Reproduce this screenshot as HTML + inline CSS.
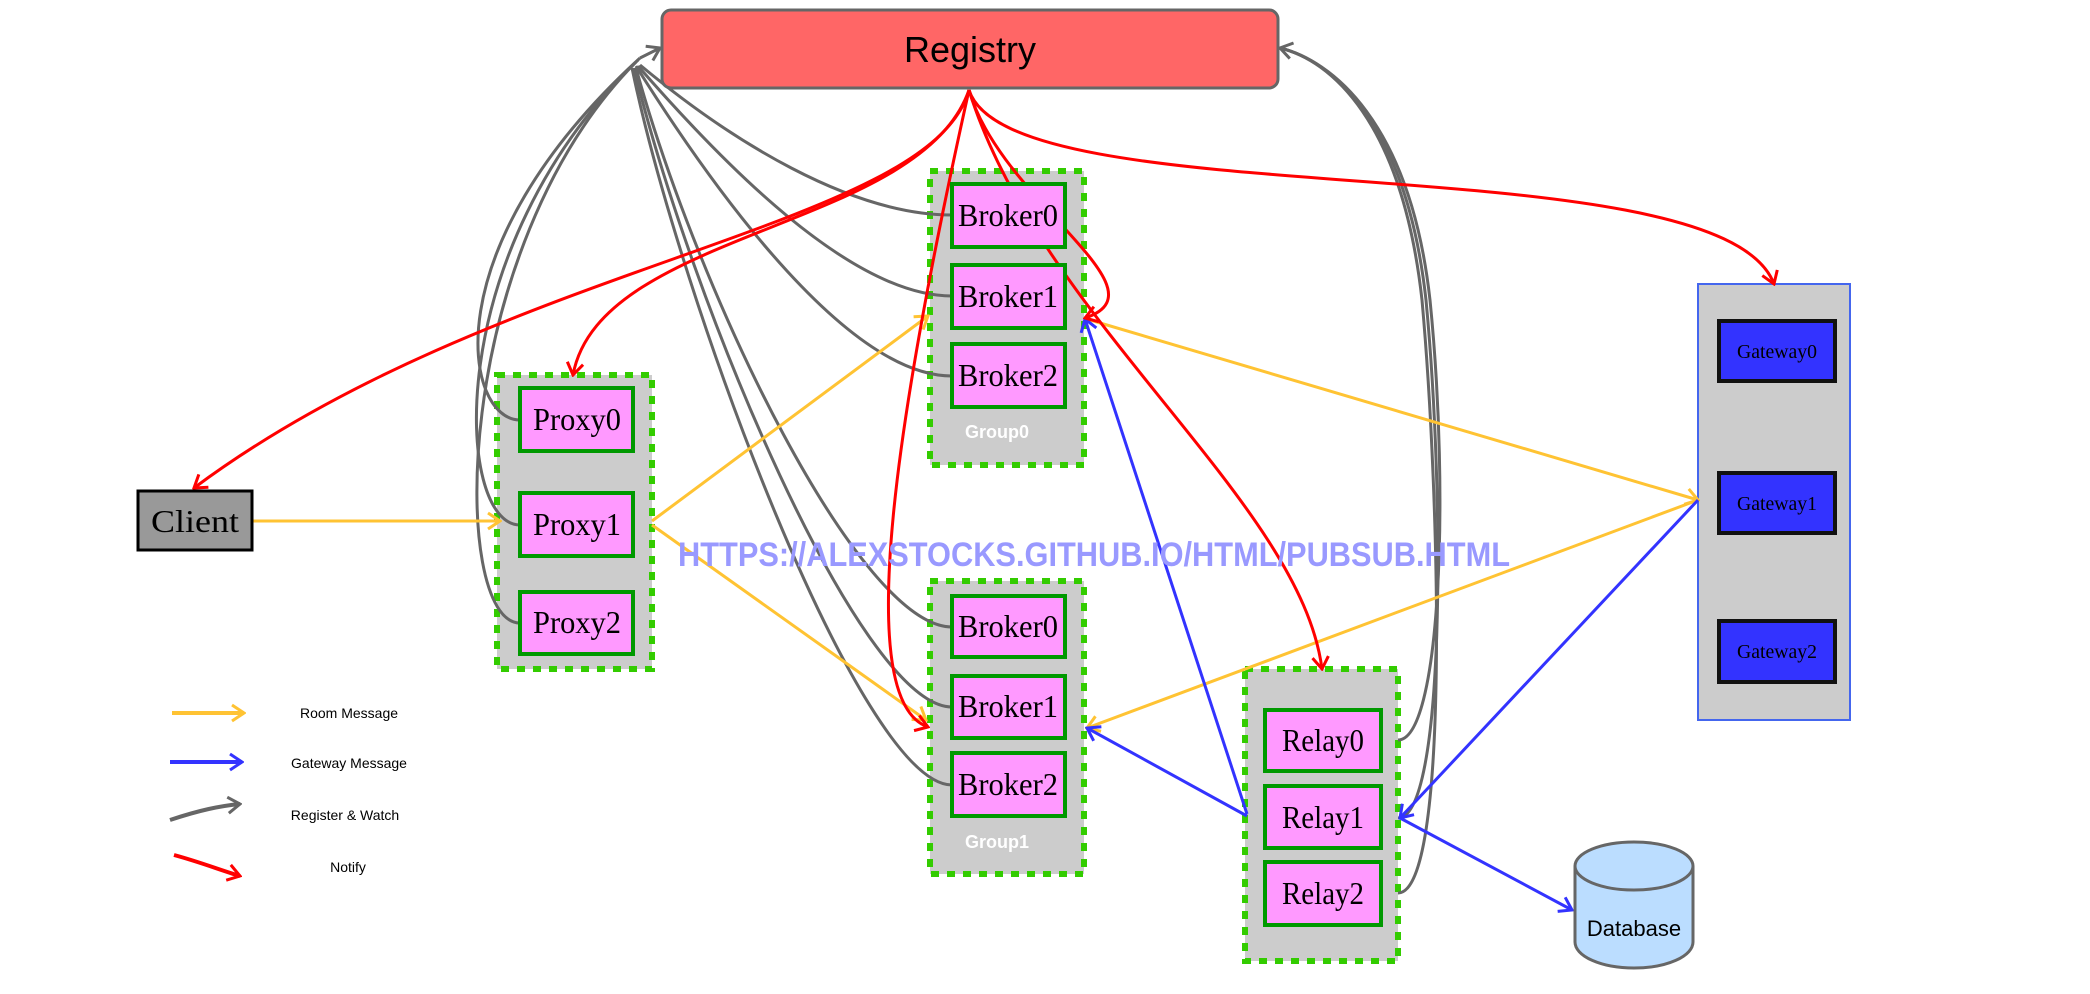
<!DOCTYPE html>
<html><head><meta charset="utf-8"><style>
html,body{margin:0;padding:0;background:#fff;}
svg{display:block;}
.ser{font-family:"Liberation Serif",serif;}
.san{font-family:"Liberation Sans",sans-serif;}
</style></head><body>
<svg width="2090" height="994" viewBox="0 0 2090 994" xmlns="http://www.w3.org/2000/svg">
<defs>
<marker id="ag" viewBox="0 0 20 20" refX="18" refY="10" markerWidth="20" markerHeight="20" markerUnits="userSpaceOnUse" orient="auto"><polyline points="6,2 18,10 6,18" fill="none" stroke="#666" stroke-width="3"/></marker>
<marker id="ar" viewBox="0 0 20 20" refX="18" refY="10" markerWidth="20" markerHeight="20" markerUnits="userSpaceOnUse" orient="auto"><polyline points="6,2 18,10 6,18" fill="none" stroke="#f00" stroke-width="3"/></marker>
<marker id="ay" viewBox="0 0 20 20" refX="18" refY="10" markerWidth="20" markerHeight="20" markerUnits="userSpaceOnUse" orient="auto"><polyline points="6,2 18,10 6,18" fill="none" stroke="#FFC333" stroke-width="3"/></marker>
<marker id="ab" viewBox="0 0 20 20" refX="18" refY="10" markerWidth="20" markerHeight="20" markerUnits="userSpaceOnUse" orient="auto"><polyline points="6,2 18,10 6,18" fill="none" stroke="#3333FF" stroke-width="3"/></marker>
</defs>

<rect x="497" y="375" width="155" height="294" fill="#ccc" stroke="#33CC00" stroke-width="6" stroke-dasharray="8,8"/>
<rect x="930" y="171" width="154" height="294" fill="#ccc" stroke="#33CC00" stroke-width="6" stroke-dasharray="8,8"/>
<rect x="930" y="581" width="154" height="293" fill="#ccc" stroke="#33CC00" stroke-width="6" stroke-dasharray="8,8"/>
<rect x="1245" y="669" width="153" height="292" fill="#ccc" stroke="#33CC00" stroke-width="6" stroke-dasharray="8,8"/>
<rect x="1698" y="284" width="152" height="436" fill="#ccc" stroke="#4466EE" stroke-width="2"/>

<g fill="none" stroke="#666" stroke-width="3">
<path d="M520,420 C465,420 430,250 640,58"/>
<path d="M520,525 C455,525 440,250 638,60"/>
<path d="M520,623 C450,623 450,250 636,62"/>
<path d="M952,215 C850,215 730,140 640,65"/>
<path d="M952,296 C850,296 720,160 638,66"/>
<path d="M952,376 C850,376 720,200 636,66"/>
<path d="M952,627 C860,627 700,300 636,68"/>
<path d="M952,707 C860,707 690,300 634,68"/>
<path d="M952,785 C860,785 680,300 632,68"/>
<path d="M640,58 L660,48" marker-end="url(#ag)"/>
<path d="M1398,740 C1440,740 1450,500 1430,300 C1410,120 1330,60 1280,48" marker-end="url(#ag)"/>
<path d="M1398,818 C1445,818 1445,500 1426,300 C1406,120 1330,60 1280,48"/>
<path d="M1398,893 C1450,893 1440,500 1422,300 C1402,120 1330,60 1280,48"/>
</g>

<g fill="none" stroke="#FFC333" stroke-width="3">
<path d="M252,521 L500,521" marker-end="url(#ay)"/>
<path d="M652,521 L928,316" marker-end="url(#ay)"/>
<path d="M652,525 L926,720" marker-end="url(#ay)"/>
<path d="M1090,320 L1698,500" marker-end="url(#ay)"/>
<path d="M1698,500 L1087,728" marker-end="url(#ay)"/>
</g>

<g fill="none" stroke="#3333FF" stroke-width="3">
<path d="M1247,814 L1085,319" marker-end="url(#ab)"/>
<path d="M1247,816 L1087,728" marker-end="url(#ab)"/>
<path d="M1698,500 L1400,818" marker-end="url(#ab)"/>
<path d="M1400,818 L1572,910" marker-end="url(#ab)"/>
</g>

<g fill="none" stroke="#f00" stroke-width="3">
<path d="M969,90 C930,230 500,260 194,488" marker-end="url(#ar)"/>
<path d="M969,90 C920,230 600,230 573,375" marker-end="url(#ar)"/>
<path d="M969,90 C1000,200 1170,290 1085,318" marker-end="url(#ar)"/>
<path d="M969,90 C900,400 850,700 928,727" marker-end="url(#ar)"/>
<path d="M969,90 C1040,320 1300,500 1322,669" marker-end="url(#ar)"/>
<path d="M969,90 C1010,220 1720,140 1774,284" marker-end="url(#ar)"/>
</g>

<rect x="662" y="10" width="616" height="78" rx="9" fill="#FF6666" stroke="#666" stroke-width="3"/>
<text x="970" y="62" text-anchor="middle" class="san" font-size="36">Registry</text>

<rect x="138" y="491" width="114" height="59" fill="#999" stroke="#000" stroke-width="3"/>
<text x="195" y="532" text-anchor="middle" class="ser" font-size="32" textLength="88" lengthAdjust="spacingAndGlyphs">Client</text>

<g fill="#FF99FF" stroke="#009900" stroke-width="4">
<rect x="520" y="388" width="113" height="63"/>
<rect x="520" y="493" width="113" height="63"/>
<rect x="520" y="592" width="113" height="62"/>
<rect x="952" y="184" width="113" height="63"/>
<rect x="952" y="265" width="113" height="63"/>
<rect x="952" y="344" width="113" height="63"/>
<rect x="952" y="596" width="113" height="61"/>
<rect x="952" y="676" width="113" height="62"/>
<rect x="952" y="753" width="113" height="63"/>
<rect x="1265" y="710" width="116" height="61"/>
<rect x="1265" y="786" width="116" height="62"/>
<rect x="1265" y="862" width="116" height="63"/>
</g>
<g class="ser" font-size="32" text-anchor="middle" lengthAdjust="spacingAndGlyphs">
<text x="577" y="430" textLength="88" lengthAdjust="spacingAndGlyphs">Proxy0</text>
<text x="577" y="535" textLength="88" lengthAdjust="spacingAndGlyphs">Proxy1</text>
<text x="577" y="633" textLength="88" lengthAdjust="spacingAndGlyphs">Proxy2</text>
<text x="1008" y="226" textLength="100" lengthAdjust="spacingAndGlyphs">Broker0</text>
<text x="1008" y="307" textLength="100" lengthAdjust="spacingAndGlyphs">Broker1</text>
<text x="1008" y="386" textLength="100" lengthAdjust="spacingAndGlyphs">Broker2</text>
<text x="1008" y="637" textLength="100" lengthAdjust="spacingAndGlyphs">Broker0</text>
<text x="1008" y="717" textLength="100" lengthAdjust="spacingAndGlyphs">Broker1</text>
<text x="1008" y="795" textLength="100" lengthAdjust="spacingAndGlyphs">Broker2</text>
<text x="1323" y="751" textLength="82" lengthAdjust="spacingAndGlyphs">Relay0</text>
<text x="1323" y="828" textLength="82" lengthAdjust="spacingAndGlyphs">Relay1</text>
<text x="1323" y="904" textLength="82" lengthAdjust="spacingAndGlyphs">Relay2</text>
</g>
<text x="997" y="438" text-anchor="middle" class="san" font-weight="bold" font-size="18" fill="#fff">Group0</text>
<text x="997" y="848" text-anchor="middle" class="san" font-weight="bold" font-size="18" fill="#fff">Group1</text>

<g fill="#3333FF" stroke="#111" stroke-width="4">
<rect x="1719" y="321" width="116" height="60"/>
<rect x="1719" y="473" width="116" height="60"/>
<rect x="1719" y="621" width="116" height="61"/>
</g>
<g class="ser" font-size="20" text-anchor="middle">
<text x="1777" y="358" textLength="80" lengthAdjust="spacingAndGlyphs">Gateway0</text>
<text x="1777" y="510" textLength="80" lengthAdjust="spacingAndGlyphs">Gateway1</text>
<text x="1777" y="658" textLength="80" lengthAdjust="spacingAndGlyphs">Gateway2</text>
</g>

<path d="M1575,866 L1575,942 A59,26 0 0 0 1693,942 L1693,866" fill="#BBDDFF" stroke="#666" stroke-width="3"/>
<ellipse cx="1634" cy="866" rx="59" ry="24" fill="#BBDDFF" stroke="#666" stroke-width="3"/>
<text x="1634" y="936" text-anchor="middle" class="san" font-size="22">Database</text>

<text x="678" y="566" class="san" font-weight="bold" font-size="34" fill="#9999FF" textLength="832" lengthAdjust="spacingAndGlyphs">HTTPS://ALEXSTOCKS.GITHUB.IO/HTML/PUBSUB.HTML</text>

<g fill="none" stroke-width="4">
<path d="M172,713 L244,713" stroke="#FFC333" marker-end="url(#ay)"/>
<path d="M170,762 L242,762" stroke="#3333FF" marker-end="url(#ab)"/>
<path d="M170,820 C200,810 220,806 240,804" stroke="#666" marker-end="url(#ag)"/>
<path d="M174,855 C200,862 220,870 240,876" stroke="#f00" marker-end="url(#ar)"/>
</g>
<g class="san" font-size="14" text-anchor="middle">
<text x="349" y="718">Room Message</text>
<text x="349" y="768">Gateway Message</text>
<text x="345" y="820">Register &amp; Watch</text>
<text x="348" y="872">Notify</text>
</g>
</svg>
</body></html>
